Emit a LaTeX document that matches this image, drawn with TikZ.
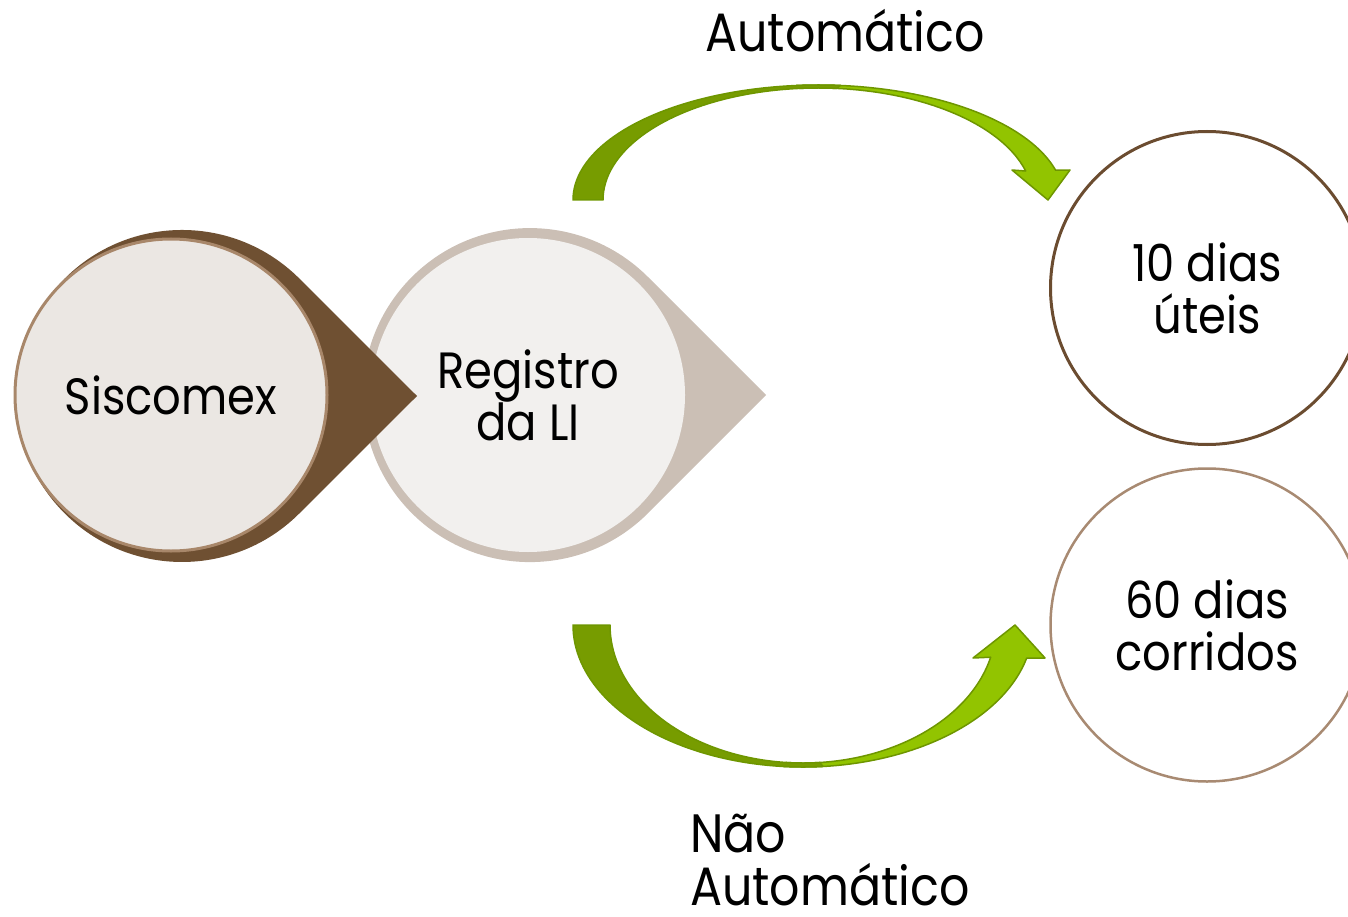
\documentclass[tikz,border=0pt]{standalone}
\usepackage{fontspec}
\setmainfont{Poppins}[FakeStretch=0.88]
\usetikzlibrary{calc}
\definecolor{brownD}{HTML}{6F5032}
\definecolor{brownL}{HTML}{A8876A}
\definecolor{beige}{HTML}{CBBFB5}
\definecolor{fillA}{HTML}{EBE7E3}
\definecolor{fillB}{HTML}{F2F0EE}
\definecolor{greenD}{HTML}{779C00}
\definecolor{greenL}{HTML}{92C400}
\definecolor{greenS}{HTML}{6E9600}
\definecolor{ringA}{HTML}{6B4C30}
\definecolor{ringB}{HTML}{A88A72}
\begin{document}
\begin{tikzpicture}[x=1pt,y=-1pt,
  ctext/.style={align=center,font=\fontsize{51}{52}\selectfont,text=black},
  lbl/.style={font=\fontsize{54}{54}\selectfont,text=black,inner sep=0pt,text depth=0pt},
  bubble/.style={circle,inner sep=0pt},
  arrowD/.style={fill=greenD,draw=greenS,line width=1.5pt,line join=round},
  arrowL/.style={fill=greenL,draw=greenS,line width=1.5pt,line join=round}]
\useasboundingbox (0,0) rectangle (1348,917);
% Registro teardrop
\fill[beige] (766,395) -- (648,277) arc[start angle=315,end angle=45,radius=167] -- cycle;
\node[bubble,fill=fillB,minimum size=314pt,ctext] (reg) at (528,395) {Registro\\da LI};
% Siscomex teardrop
\fill[brownD] (417,396) -- (299.4,278.6) arc[start angle=315,end angle=45,radius=166] -- cycle;
\node[bubble,fill=fillA,draw=brownL,line width=3pt,minimum size=312pt,ctext] (sis) at (171,395) {Siscomex};
% right circles
\node[bubble,draw=ringA,line width=3pt,minimum size=313pt,ctext] (c10) at (1207,288) {10 dias\\úteis};
\node[bubble,draw=ringB,line width=2.5pt,minimum size=313pt,ctext] (c60) at (1207,625) {60 dias\\corridos};
% top arrow
\coordinate (tc) at (818,200);
\path[arrowL] ($(tc)+(265:246 and 115)$) arc[start angle=265,end angle=345,x radius=246,y radius=115]
  -- (1070,170) -- (1048,200) -- (1012,170) -- ($(tc)+(345:215 and 112)$)
  arc[start angle=345,end angle=265,x radius=215,y radius=112] -- cycle;
\path[arrowD] (573,200) arc[start angle=180,end angle=275,x radius=246,y radius=115]
  -- ($(tc)+(275:215 and 112)$) arc[start angle=275,end angle=180,x radius=215,y radius=112] -- cycle;
% bottom arrow
\coordinate (bc) at (803,625);
\path[arrowL] ($(bc)+(95:230 and 142)$) arc[start angle=95,end angle=13.5,x radius=230,y radius=142]
  -- (1045,658) -- (1015,625) -- (973,658) -- ($(bc)+(13.5:193 and 138)$)
  arc[start angle=13.5,end angle=95,x radius=193,y radius=138] -- cycle;
\path[arrowD] (573,625) arc[start angle=180,end angle=85,x radius=230,y radius=142]
  -- ($(bc)+(85:193 and 138)$) arc[start angle=85,end angle=180,x radius=193,y radius=138] -- cycle;
% labels
\node[lbl,anchor=base] (auto) at (845,52) {Automático};
\node[lbl,anchor=base west] (nao) at (690,852) {Não};
\node[lbl,anchor=base west] (nauto) at (690,905) {Automático};
\end{tikzpicture}
\end{document}
